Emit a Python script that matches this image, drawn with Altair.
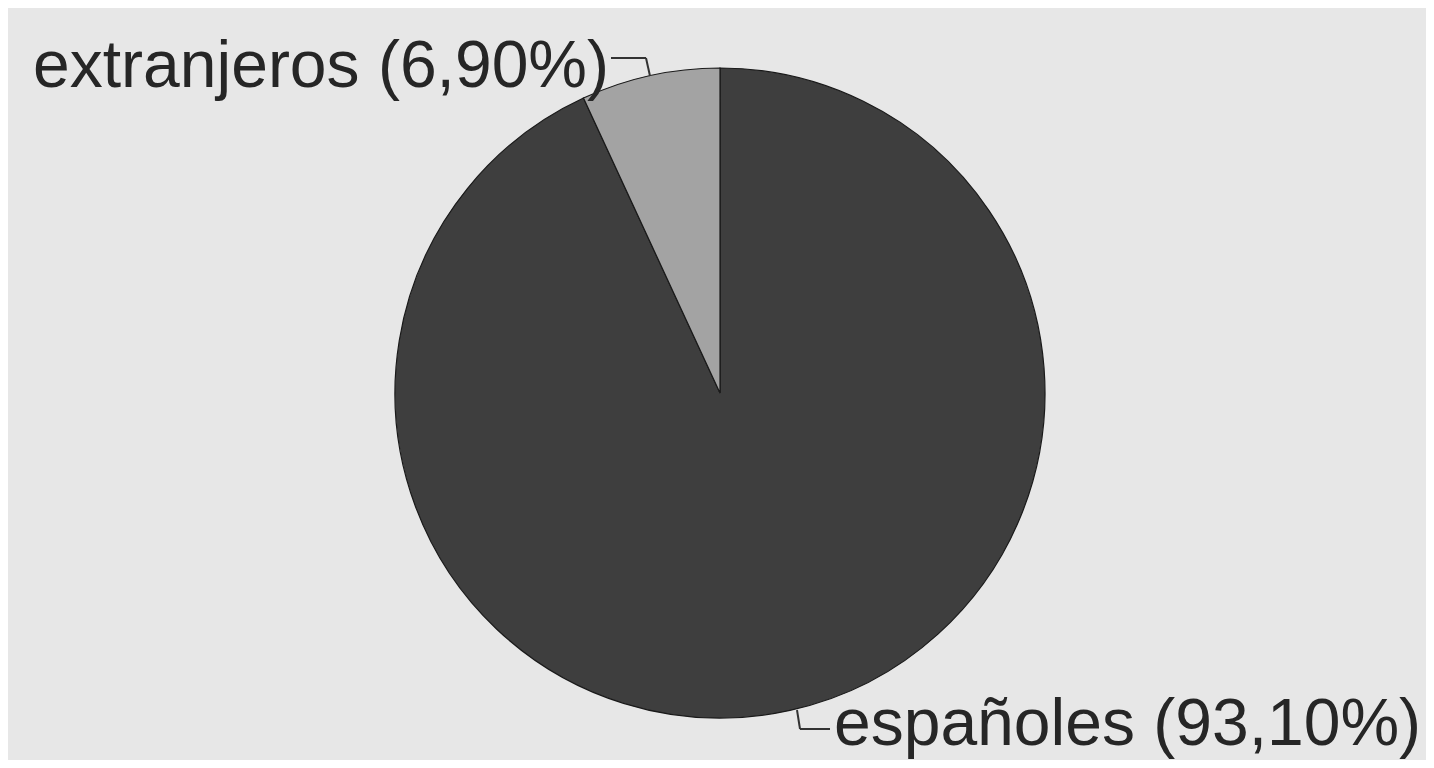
import altair as alt
import pandas as pd

categories = ["españoles", "extranjeros"]
values = [93.10, 6.90]
labels = ["españoles (93,10%)", "extranjeros (6,90%)"]
order_idx = [0, 1]

df = pd.DataFrame({"cat": categories, "val": values, "label": labels, "ord": order_idx})

W, H = 1418, 752
CX, CY, R = 712, 385, 325

pie = alt.Chart(df).mark_arc(stroke="#1a1a1a", strokeWidth=1.2, radius=R).encode(
    theta=alt.Theta("val:Q", stack=True),
    order=alt.Order("ord:Q"),
    color=alt.Color("cat:N", scale=alt.Scale(domain=categories, range=["#3e3e3e", "#a3a3a3"]), legend=None),
    x=alt.value(CX),
    y=alt.value(CY),
)

font = "Liberation Sans"

lab_ext = alt.Chart(df[df.cat == "extranjeros"]).mark_text(
    align="right", baseline="alphabetic", fontSize=66, font=font, color="#262626"
).encode(text="label:N", x=alt.value(601), y=alt.value(79))

lab_esp = alt.Chart(df[df.cat == "españoles"]).mark_text(
    align="left", baseline="alphabetic", fontSize=66, font=font, color="#262626"
).encode(text="label:N", x=alt.value(826), y=alt.value(737))

leader_cols = pd.DataFrame({"k": [0]})
ln_style = dict(color="#333333", strokeWidth=2)
l1 = alt.Chart(leader_cols).mark_rule(**ln_style).encode(x=alt.value(603), x2=alt.value(638), y=alt.value(50), y2=alt.value(50))
l2 = alt.Chart(leader_cols).mark_rule(**ln_style).encode(x=alt.value(638), x2=alt.value(642), y=alt.value(50), y2=alt.value(68))
l3 = alt.Chart(leader_cols).mark_rule(**ln_style).encode(x=alt.value(789), x2=alt.value(792), y=alt.value(702), y2=alt.value(721))
l4 = alt.Chart(leader_cols).mark_rule(**ln_style).encode(x=alt.value(792), x2=alt.value(822), y=alt.value(721), y2=alt.value(721))

chart = alt.layer(pie, lab_ext, lab_esp, l1, l2, l3, l4).properties(
    width=W, height=H, padding=0, autosize=alt.AutoSizeParams(type="none"),
    background="#e7e7e7",
).configure_view(stroke=None)

chart.save("out.html", embed_options={"renderer": "svg", "actions": False})
